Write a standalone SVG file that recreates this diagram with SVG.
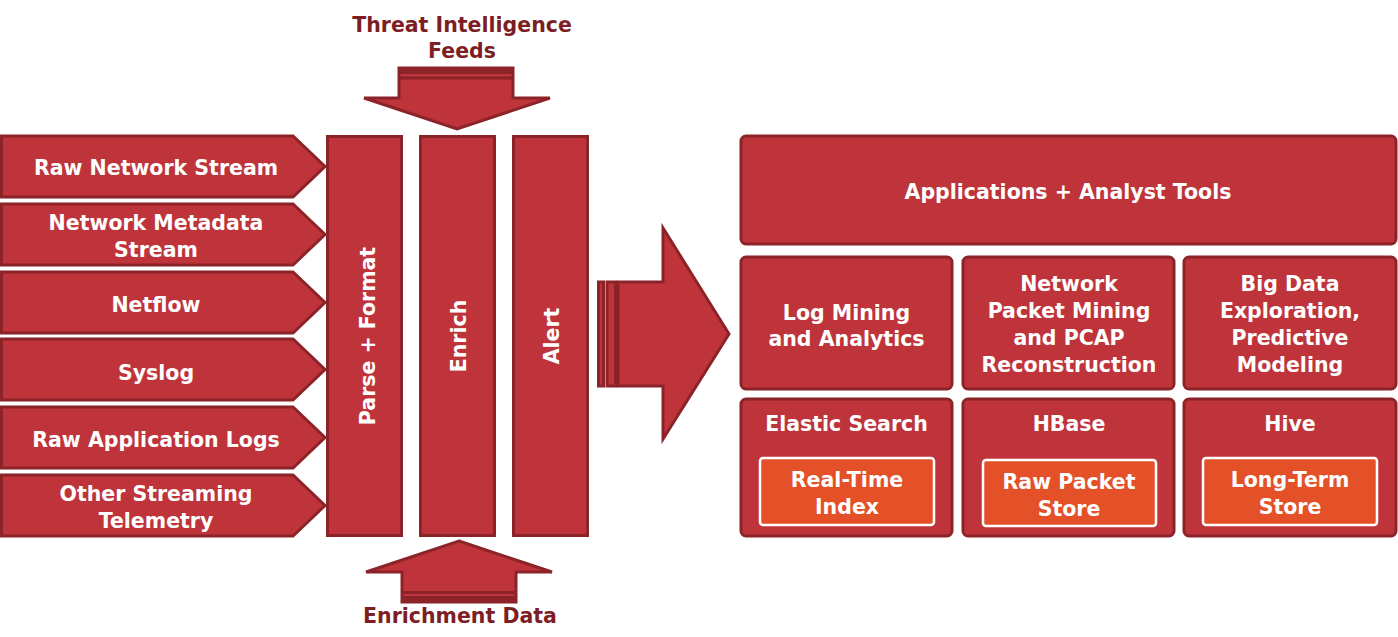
<svg xmlns="http://www.w3.org/2000/svg" width="1398" height="637" viewBox="0 0 1398 637">
<style>
.s{fill:#bf343b;stroke:#8b2329;stroke-width:3;stroke-linejoin:miter}
.b{fill:#bf343b;stroke:#8b2329;stroke-width:3}
.o{fill:#e45027;stroke:#ffffff;stroke-width:2.5}
.d{fill:#8b2329}
.t{font-family:"DejaVu Sans",Verdana,sans-serif;font-weight:bold;font-size:20.5px;fill:#ffffff;text-anchor:middle}
.h{font-family:"DejaVu Sans",Verdana,sans-serif;font-weight:bold;font-size:20.5px;fill:#7d1e25;text-anchor:middle}
</style>
<rect width="1398" height="637" fill="#ffffff"/>
<g id="title-threat">
<text class="h" x="462" y="32">Threat Intelligence</text>
<text class="h" x="462" y="58">Feeds</text>
</g>
<g id="title-enrichment">
<text class="h" x="460" y="623">Enrichment Data</text>
</g>
<g id="connectors">
<g id="arrow-threat">
<polygon class="s" points="399,68 513,68 513,98 550,98 457,129 364,98 399,98"/>
<rect class="d" x="399" y="68" width="114" height="6"/>
<rect class="d" x="399" y="76.5" width="114" height="3"/>
</g>
<g id="arrow-enrichment">
<polygon class="s" points="459,541 552,572 516,572 516,602 402,602 402,572 366,572"/>
<rect class="d" x="402" y="591" width="114" height="3"/>
<rect class="d" x="402" y="596" width="114" height="6"/>
</g>
<g id="arrow-main">
<rect class="s" x="598.5" y="282" width="5" height="104" stroke-width="2"/>
<rect class="s" x="607" y="282" width="8.5" height="104" stroke-width="2"/>
<polygon class="s" points="618,282 663,282 663,228 729,334 663,439 663,386 618,386" stroke-width="2"/>
</g>
</g>
<g id="src-raw-network">
<polygon class="s" points="1.5,136 293,136 325,166.5 293,197 1.5,197"/>
<text class="t" x="156" y="175">Raw Network Stream</text>
</g>
<g id="src-network-metadata">
<polygon class="s" points="1.5,204 293,204 325,234.5 293,265 1.5,265"/>
<text class="t" x="156" y="230">Network Metadata</text>
<text class="t" x="156" y="257">Stream</text>
</g>
<g id="src-netflow">
<polygon class="s" points="1.5,272 293,272 325,302.5 293,333 1.5,333"/>
<text class="t" x="156" y="312">Netflow</text>
</g>
<g id="src-syslog">
<polygon class="s" points="1.5,339 293,339 325,369.5 293,400 1.5,400"/>
<text class="t" x="156" y="380">Syslog</text>
</g>
<g id="src-raw-app-logs">
<polygon class="s" points="1.5,407 293,407 325,437.5 293,468 1.5,468"/>
<text class="t" x="156" y="447">Raw Application Logs</text>
</g>
<g id="src-other-telemetry">
<polygon class="s" points="1.5,475 293,475 325,505.5 293,536 1.5,536"/>
<text class="t" x="156" y="501">Other Streaming</text>
<text class="t" x="156" y="528">Telemetry</text>
</g>
<g id="stage-parse">
<rect class="b" x="327.5" y="136.5" width="74" height="399"/>
<text class="t" transform="translate(375,336) rotate(-90)">Parse + Format</text>
</g>
<g id="stage-enrich">
<rect class="b" x="420.5" y="136.5" width="74" height="399"/>
<text class="t" transform="translate(466,336) rotate(-90)">Enrich</text>
</g>
<g id="stage-alert">
<rect class="b" x="513.5" y="136.5" width="74" height="399"/>
<text class="t" transform="translate(559,336) rotate(-90)">Alert</text>
</g>
<g id="apps">
<rect class="b" x="741" y="136" width="655" height="108" rx="5"/>
<text class="t" x="1068" y="199">Applications + Analyst Tools</text>
</g>
<g id="log-mining">
<rect class="b" x="741" y="257" width="211" height="132" rx="5"/>
<text class="t" x="846.5" y="320">Log Mining</text>
<text class="t" x="846.5" y="346">and Analytics</text>
</g>
<g id="packet-mining">
<rect class="b" x="963" y="257" width="211" height="132" rx="5"/>
<text class="t" x="1069" y="291">Network</text>
<text class="t" x="1069" y="318">Packet Mining</text>
<text class="t" x="1069" y="345">and PCAP</text>
<text class="t" x="1069" y="372">Reconstruction</text>
</g>
<g id="big-data">
<rect class="b" x="1184" y="257" width="212" height="132" rx="5"/>
<text class="t" x="1290" y="291">Big Data</text>
<text class="t" x="1290" y="318">Exploration,</text>
<text class="t" x="1290" y="345">Predictive</text>
<text class="t" x="1290" y="372">Modeling</text>
</g>
<g id="elastic">
<rect class="b" x="741" y="399" width="211" height="137" rx="5"/>
<text class="t" x="846.5" y="431">Elastic Search</text>
<rect class="o" x="760" y="458" width="174" height="67" rx="3"/>
<text class="t" x="847" y="487">Real-Time</text>
<text class="t" x="847" y="514">Index</text>
</g>
<g id="hbase">
<rect class="b" x="963" y="399" width="211" height="137" rx="5"/>
<text class="t" x="1069" y="431">HBase</text>
<rect class="o" x="983" y="460" width="173" height="66" rx="3"/>
<text class="t" x="1069" y="489">Raw Packet</text>
<text class="t" x="1069" y="516">Store</text>
</g>
<g id="hive">
<rect class="b" x="1184" y="399" width="212" height="137" rx="5"/>
<text class="t" x="1290" y="431">Hive</text>
<rect class="o" x="1203" y="458" width="174" height="67" rx="3"/>
<text class="t" x="1290" y="487">Long-Term</text>
<text class="t" x="1290" y="514">Store</text>
</g>
</svg>
